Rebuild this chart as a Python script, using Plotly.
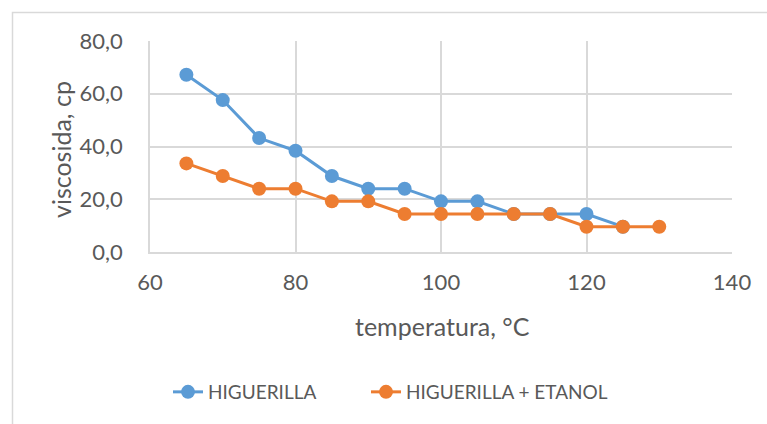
import plotly.graph_objects as go

# Temperatura (°C) y viscosidad (cp)
temp_higuerilla = [65, 70, 75, 80, 85, 90, 95, 100, 105, 110, 115, 120, 125]
visc_higuerilla = [67.2, 57.6, 43.2, 38.4, 28.8, 24.0, 24.0, 19.2, 19.2, 14.4, 14.4, 14.4, 9.6]

temp_etanol = [65, 70, 75, 80, 85, 90, 95, 100, 105, 110, 115, 120, 125, 130]
visc_etanol = [33.6, 28.8, 24.0, 24.0, 19.2, 19.2, 14.4, 14.4, 14.4, 14.4, 14.4, 9.6, 9.6, 9.6]

x_ticks = [60, 80, 100, 120, 140]
y_ticks = [0, 20, 40, 60, 80]

FONT = "Lato"
TXT = "#595959"
GRID = "#d9d9d9"

fig = go.Figure()
fig.add_trace(go.Scatter(
    x=temp_higuerilla, y=visc_higuerilla, name="HIGUERILLA",
    mode="lines+markers",
    line=dict(color="#5B9BD5", width=3),
    marker=dict(color="#5B9BD5", size=14),
    legend="legend",
))
fig.add_trace(go.Scatter(
    x=temp_etanol, y=visc_etanol, name="HIGUERILLA + ETANOL",
    mode="lines+markers",
    line=dict(color="#ED7D31", width=3),
    marker=dict(color="#ED7D31", size=14),
    legend="legend2",
))

# Plot area spans 582 x 211 px; frame, titles and legends placed in paper units around it
L, T, W, H = 150, 41, 582, 211
def px(x):
    return (x - L) / W
def py(y):
    return (T + H - y) / H

legend_font = dict(family=FONT, size=19, color=TXT)

fig.update_layout(
    width=767, height=424,
    margin=dict(l=L, r=767 - L - W, t=T, b=424 - T - H),
    paper_bgcolor="white", plot_bgcolor="white",
    font=dict(family=FONT, size=22, color=TXT),
    showlegend=True,
    legend=dict(x=px(168), y=py(392), xanchor="left", yanchor="middle",
                font=legend_font, bgcolor="rgba(0,0,0,0)"),
    legend2=dict(x=px(366), y=py(392), xanchor="left", yanchor="middle",
                 font=legend_font, bgcolor="rgba(0,0,0,0)"),
    xaxis=dict(
        range=[60, 140], tickvals=x_ticks, ticktext=[str(v) for v in x_ticks],
        showgrid=True, gridcolor=GRID, gridwidth=1.5,
        showline=True, linecolor=GRID, linewidth=1.5,
        zeroline=False, ticks="", ticklen=0, ticklabelstandoff=10,
        tickfont=dict(family=FONT, size=22, color=TXT),
    ),
    yaxis=dict(
        range=[0, 80], tickvals=y_ticks, ticktext=[f"{v},0" for v in y_ticks],
        showgrid=True, gridcolor=GRID, gridwidth=1.5,
        showline=True, linecolor=GRID, linewidth=1.5,
        zeroline=False, ticks="", ticklen=0, ticklabelstandoff=21,
        tickfont=dict(family=FONT, size=22, color=TXT),
    ),
    annotations=[
        dict(text="temperatura, °C", xref="paper", yref="paper",
             x=px(442), y=py(326), xanchor="center", yanchor="middle",
             showarrow=False, font=dict(family=FONT, size=25, color=TXT)),
        dict(text="viscosida, cp", xref="paper", yref="paper",
             x=px(61), y=py(150), xanchor="center", yanchor="middle",
             textangle=-90, showarrow=False,
             font=dict(family=FONT, size=25, color=TXT)),
    ],
    shapes=[dict(
        type="path", xref="paper", yref="paper",
        path=f"M {px(12.5)} {py(440)} L {px(12.5)} {py(12.5)} L {px(780)} {py(12.5)}",
        line=dict(color=GRID, width=1.5),
    )],
)

fig.write_html("out.html")
